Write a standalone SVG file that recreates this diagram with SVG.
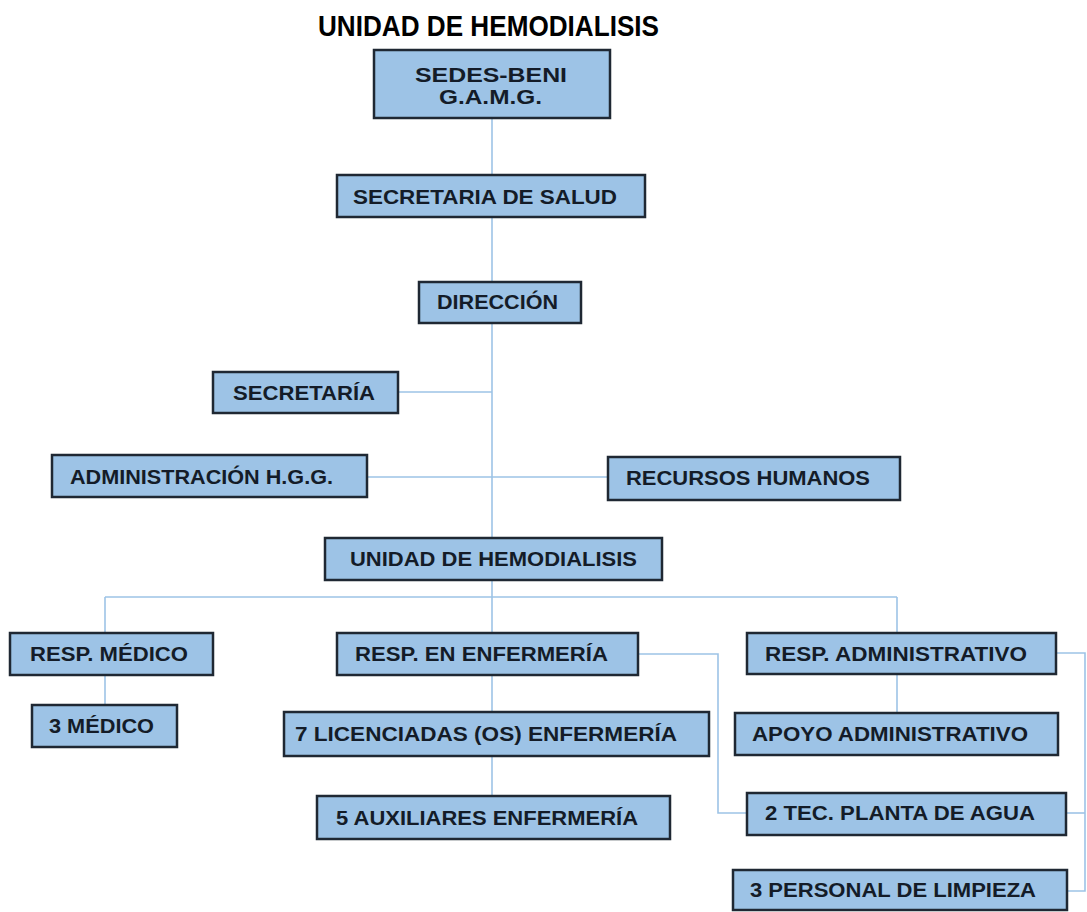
<svg xmlns="http://www.w3.org/2000/svg" width="1087" height="912" viewBox="0 0 1087 912">
<style>
.box{fill:#9dc3e6;stroke:#1f2833;stroke-width:2.5}
.t{font-family:"Liberation Sans",Arial,sans-serif;font-weight:bold;font-size:20px;fill:#141c28}
.c{fill:none;stroke:#9dc3e6;stroke-width:1.6}
.title{font-family:"Liberation Sans",Arial,sans-serif;font-weight:bold;font-size:30px;fill:#000}
</style>
<rect width="1087" height="912" fill="#ffffff"/>
<text class="title" x="318" y="36" textLength="341" lengthAdjust="spacingAndGlyphs">UNIDAD DE HEMODIALISIS</text>
<g id="connectors">
<path class="c" d="M492,118 V796"/>
<path class="c" d="M398,392 H492"/>
<path class="c" d="M367,477 H608"/>
<path class="c" d="M105,597 H897"/>
<path class="c" d="M105,597 V705"/>
<path class="c" d="M897,597 V713"/>
<path class="c" d="M638,654 H718 V813 H747"/>
<path class="c" d="M1056,653 H1085 V891 H1067"/>
<path class="c" d="M1066,813 H1085"/>
</g>
<g id="n1"><rect class="box" x="374" y="50" width="236" height="68"/><text class="t" x="415" y="82" textLength="152" lengthAdjust="spacingAndGlyphs">SEDES-BENI</text><text class="t" x="439" y="104" textLength="103" lengthAdjust="spacingAndGlyphs">G.A.M.G.</text></g>
<g id="n2"><rect class="box" x="337" y="175" width="308" height="42"/><text class="t" x="353" y="204" textLength="264" lengthAdjust="spacingAndGlyphs">SECRETARIA DE SALUD</text></g>
<g id="n3"><rect class="box" x="419" y="282" width="162" height="41"/><text class="t" x="437" y="309" textLength="121" lengthAdjust="spacingAndGlyphs">DIRECCIÓN</text></g>
<g id="n4"><rect class="box" x="213" y="372" width="185" height="41"/><text class="t" x="233" y="400" textLength="142" lengthAdjust="spacingAndGlyphs">SECRETARÍA</text></g>
<g id="n5"><rect class="box" x="52" y="455" width="315" height="42"/><text class="t" x="70" y="484" textLength="263" lengthAdjust="spacingAndGlyphs">ADMINISTRACIÓN H.G.G.</text></g>
<g id="n6"><rect class="box" x="608" y="457" width="292" height="43"/><text class="t" x="626" y="485" textLength="244" lengthAdjust="spacingAndGlyphs">RECURSOS HUMANOS</text></g>
<g id="n7"><rect class="box" x="325" y="538" width="337" height="42"/><text class="t" x="350" y="566" textLength="287" lengthAdjust="spacingAndGlyphs">UNIDAD DE HEMODIALISIS</text></g>
<g id="n8"><rect class="box" x="10" y="633" width="203" height="42"/><text class="t" x="30" y="661" textLength="158" lengthAdjust="spacingAndGlyphs">RESP. MÉDICO</text></g>
<g id="n9"><rect class="box" x="337" y="633" width="301" height="42"/><text class="t" x="355" y="661" textLength="253" lengthAdjust="spacingAndGlyphs">RESP. EN ENFERMERÍA</text></g>
<g id="n10"><rect class="box" x="747" y="633" width="309" height="41"/><text class="t" x="765" y="661" textLength="262" lengthAdjust="spacingAndGlyphs">RESP. ADMINISTRATIVO</text></g>
<g id="n11"><rect class="box" x="32" y="705" width="145" height="42"/><text class="t" x="49" y="733" textLength="105" lengthAdjust="spacingAndGlyphs">3 MÉDICO</text></g>
<g id="n12"><rect class="box" x="284" y="712" width="425" height="44"/><text class="t" x="295" y="741" textLength="382" lengthAdjust="spacingAndGlyphs">7 LICENCIADAS (OS) ENFERMERÍA</text></g>
<g id="n13"><rect class="box" x="735" y="713" width="323" height="42"/><text class="t" x="752" y="741" textLength="276" lengthAdjust="spacingAndGlyphs">APOYO ADMINISTRATIVO</text></g>
<g id="n14"><rect class="box" x="317" y="796" width="353" height="43"/><text class="t" x="336" y="825" textLength="302" lengthAdjust="spacingAndGlyphs">5 AUXILIARES ENFERMERÍA</text></g>
<g id="n15"><rect class="box" x="747" y="793" width="319" height="42"/><text class="t" x="765" y="820" textLength="270" lengthAdjust="spacingAndGlyphs">2 TEC. PLANTA DE AGUA</text></g>
<g id="n16"><rect class="box" x="733" y="870" width="334" height="40"/><text class="t" x="750" y="897" textLength="286" lengthAdjust="spacingAndGlyphs">3 PERSONAL DE LIMPIEZA</text></g>
</svg>
